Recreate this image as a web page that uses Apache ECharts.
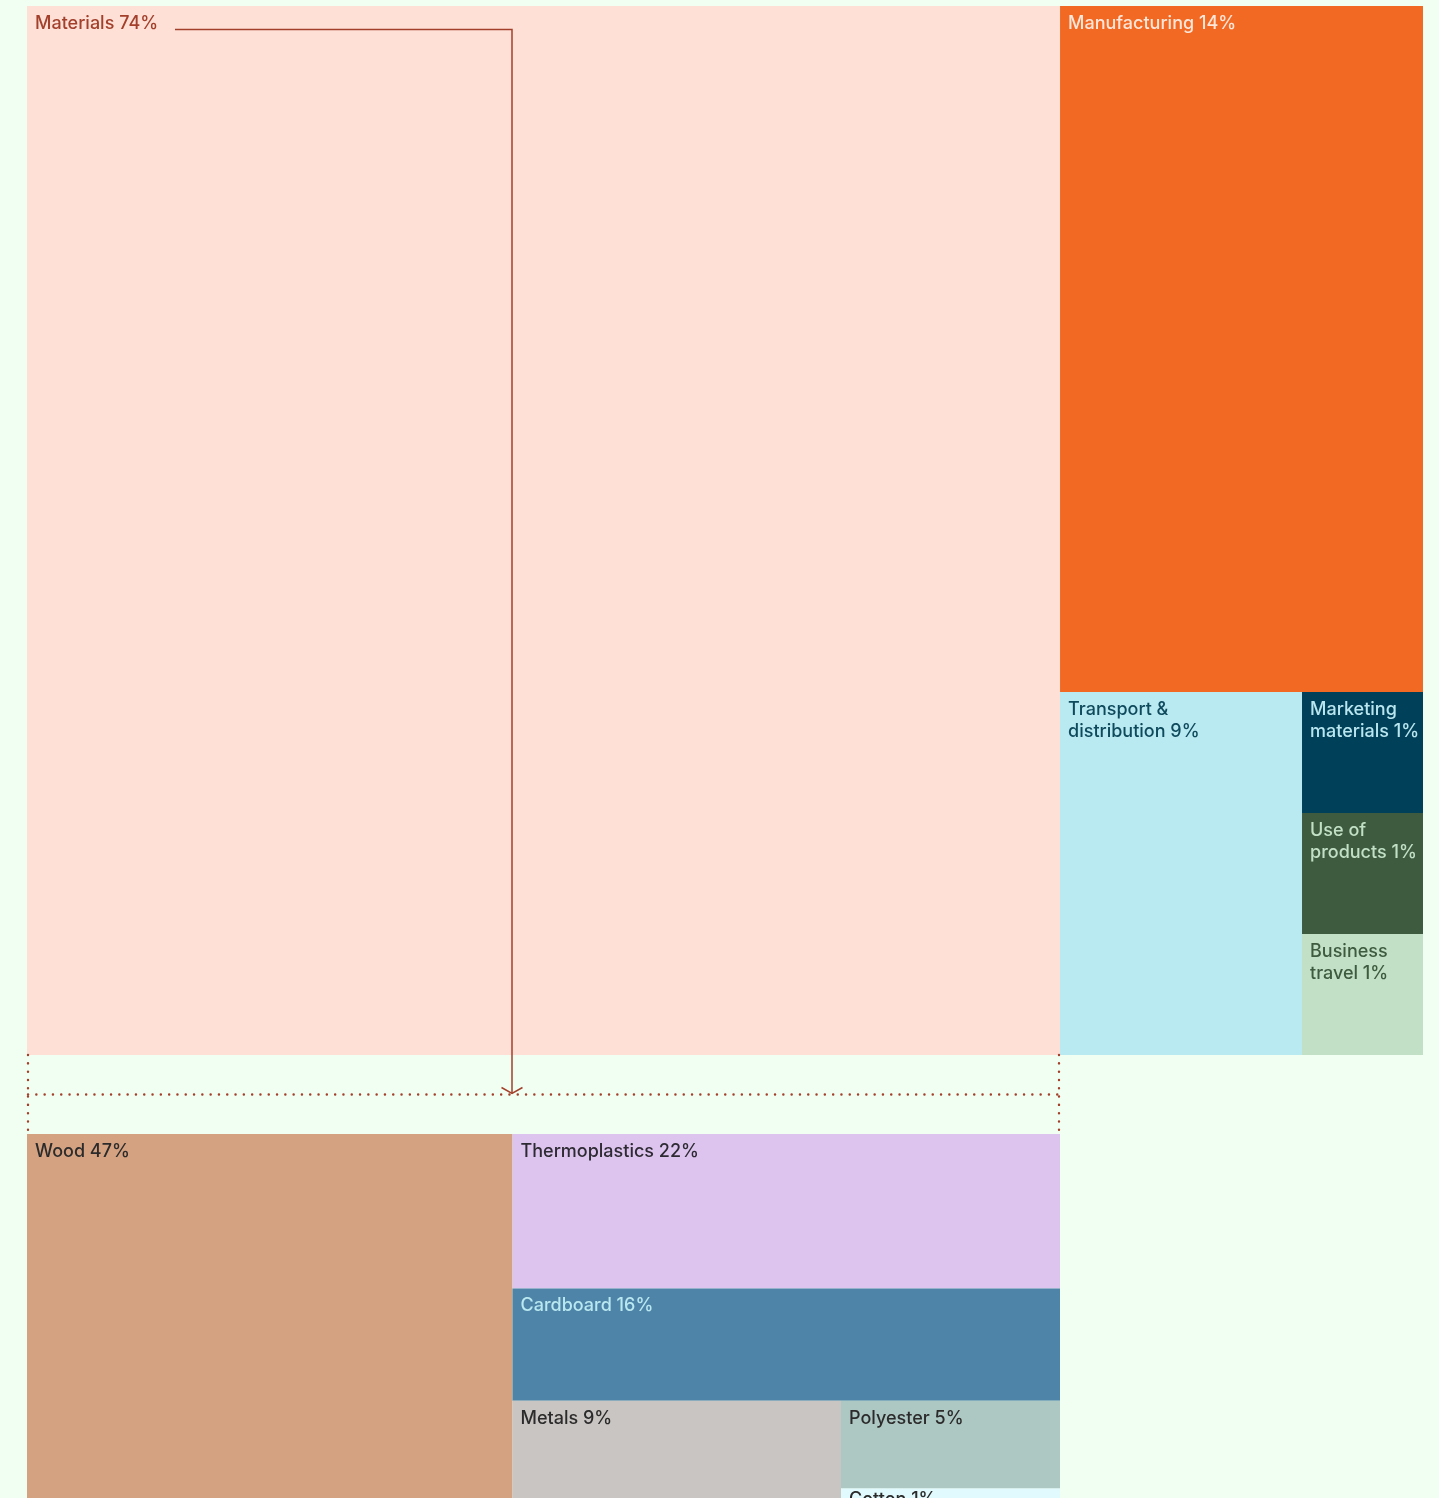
<!DOCTYPE html>
<html>
<head>
<meta charset="utf-8">
<title>Emissions breakdown</title>
<script src="https://cdn.jsdelivr.net/npm/echarts@6/dist/echarts.min.js"></script>
<style>
  html, body { margin: 0; padding: 0; background: #f1fff3; }
  #chart { width: 1439px; height: 1498px; }
</style>
</head>
<body>
<div id="chart"></div>
<script>
// overall footprint: printed share, cell size, split level
const topNames = ['Materials', 'Manufacturing', 'Transport &\ndistribution', 'Marketing\nmaterials', 'Use of\nproducts', 'Business\ntravel']
const topShares = [74, 14, 9, 1, 1, 1]
const topSizes = [74, 17, 6, 1, 1, 1]
const topLevels = [0, 1, 2, 3, 3, 3]

// materials breakdown
const materialNames = ['Wood', 'Thermoplastics', 'Cardboard', 'Metals', 'Polyester', 'Cotton']
const materialShares = [47, 22, 16, 9, 5, 1]
const materialLevels = [0, 1, 1, 2, 3, 3]

// styles
const topFill = ['#fee0d7', '#f26923', '#b9e9f1', '#004159', '#3e5b40', '#c2e0c5']
const topInk = ['#a3402b', '#fde6da', '#0f4a5c', '#b9e6ef', '#c2e0c5', '#3e5b40']
const materialFill = ['#d4a281', '#dcc4ee', '#4d84a8', '#c8c5c2', '#adc7c2', '#e0fafd']
const materialInk = ['#2c2b2b', '#2e2a33', '#b9e8f0', '#2c2b2b', '#2c2b2b', '#2c2b2b']

const TOP = { left: 27, top: 6, width: 1396, height: 1049 }
const BOTTOM = { left: 27, top: 1134, width: 1033, height: 372 }
const RUST = '#a3402b'

// alternate slice / dice: each level splits off its cells, the remainder goes one level deeper
function sliceDice(sizes, levels) {
  const cells = []
  let x0 = 0, y0 = 0, x1 = 100, y1 = 100, i = 0, level = 0
  while (i < sizes.length) {
    let rest = 0
    for (let k = i; k < sizes.length; k++) rest += sizes[k]
    const across = level % 2 === 0
    const span = across ? x1 - x0 : y1 - y0
    let pos = across ? x0 : y0
    while (i < sizes.length && levels[i] === level) {
      const step = sizes[i] / rest * span
      cells.push(across ? [pos, y0, pos + step, y1, i] : [x0, pos, x1, pos + step, i])
      pos += step
      i++
    }
    if (across) x0 = pos
    else y0 = pos
    level++
  }
  return cells
}

function cellRenderer(names, shares, fills, inks) {
  return (params, api) => {
    const i = api.value(4)
    const p0 = api.coord([api.value(0), api.value(1)])
    const p1 = api.coord([api.value(2), api.value(3)])
    const h = p1[1] - p0[1]
    // thin cells: pull the label up so it stays centred
    const dy = Math.min(6.5, (h - 18) / 2)
    return {
      type: 'group',
      children: [
        {
          type: 'rect',
          shape: { x: p0[0], y: p0[1], width: p1[0] - p0[0], height: h },
          style: { fill: fills[i] },
        },
        {
          type: 'text',
          x: p0[0] + 8,
          y: p0[1] + dy,
          style: {
            text: names[i] + ' ' + shares[i] + '%',
            fill: inks[i],
            fontFamily: 'Inter',
            fontSize: 18,
            fontWeight: 500,
            lineHeight: 22,
            align: 'left',
            verticalAlign: 'top',
          },
        },
      ],
    }
  }
}

const axisX = (g) => ({ type: 'value', gridIndex: g, min: 0, max: 100, show: false })
const axisY = (g) => ({ type: 'value', gridIndex: g, min: 0, max: 100, inverse: true, show: false })

const dots = { stroke: RUST, lineWidth: 2.4, lineCap: 'round', lineDash: [0.1, 8.2], fill: null }
const midY = (TOP.top + TOP.height + BOTTOM.top) / 2
const arrowX = 512

const chart = echarts.init(document.getElementById('chart'))
chart.setOption({
  backgroundColor: '#f1fff3',
  animation: false,
  grid: [
    { left: TOP.left, top: TOP.top, width: TOP.width, height: TOP.height, outerBoundsMode: 'none' },
    // the breakdown runs past the bottom of the page
    { left: BOTTOM.left, top: BOTTOM.top, width: BOTTOM.width, height: BOTTOM.height, outerBoundsMode: 'none' },
  ],
  xAxis: [axisX(0), axisX(1)],
  yAxis: [axisY(0), axisY(1)],
  series: [
    {
      type: 'custom',
      xAxisIndex: 0,
      yAxisIndex: 0,
      clip: false,
      data: sliceDice(topSizes, topLevels),
      renderItem: cellRenderer(topNames, topShares, topFill, topInk),
    },
    {
      type: 'custom',
      xAxisIndex: 1,
      yAxisIndex: 1,
      clip: false,
      data: sliceDice(materialShares, materialLevels),
      renderItem: cellRenderer(materialNames, materialShares, materialFill, materialInk),
    },
  ],
  graphic: [
    // connector from the Materials label down to the breakdown
    {
      type: 'polyline',
      shape: { points: [[175, 29.5], [arrowX, 29.5], [arrowX, midY - 1]] },
      style: { stroke: RUST, lineWidth: 1.5, fill: null },
      z: 10,
    },
    {
      type: 'polyline',
      shape: { points: [[arrowX - 10.5, midY - 7], [arrowX, midY - 1], [arrowX + 10.5, midY - 7]] },
      style: { stroke: RUST, lineWidth: 1.5, fill: null },
      z: 10,
    },
    // dotted bracket between the two charts
    {
      type: 'line',
      shape: { x1: BOTTOM.left + 1, y1: TOP.top + TOP.height, x2: BOTTOM.left + 1, y2: BOTTOM.top },
      style: dots,
      z: 10,
    },
    {
      type: 'line',
      shape: { x1: BOTTOM.left + BOTTOM.width - 1, y1: TOP.top + TOP.height, x2: BOTTOM.left + BOTTOM.width - 1, y2: BOTTOM.top },
      style: dots,
      z: 10,
    },
    {
      type: 'line',
      shape: { x1: BOTTOM.left + 1, y1: midY, x2: BOTTOM.left + BOTTOM.width - 1, y2: midY },
      style: dots,
      z: 10,
    },
  ],
})
</script>
</body>
</html>
